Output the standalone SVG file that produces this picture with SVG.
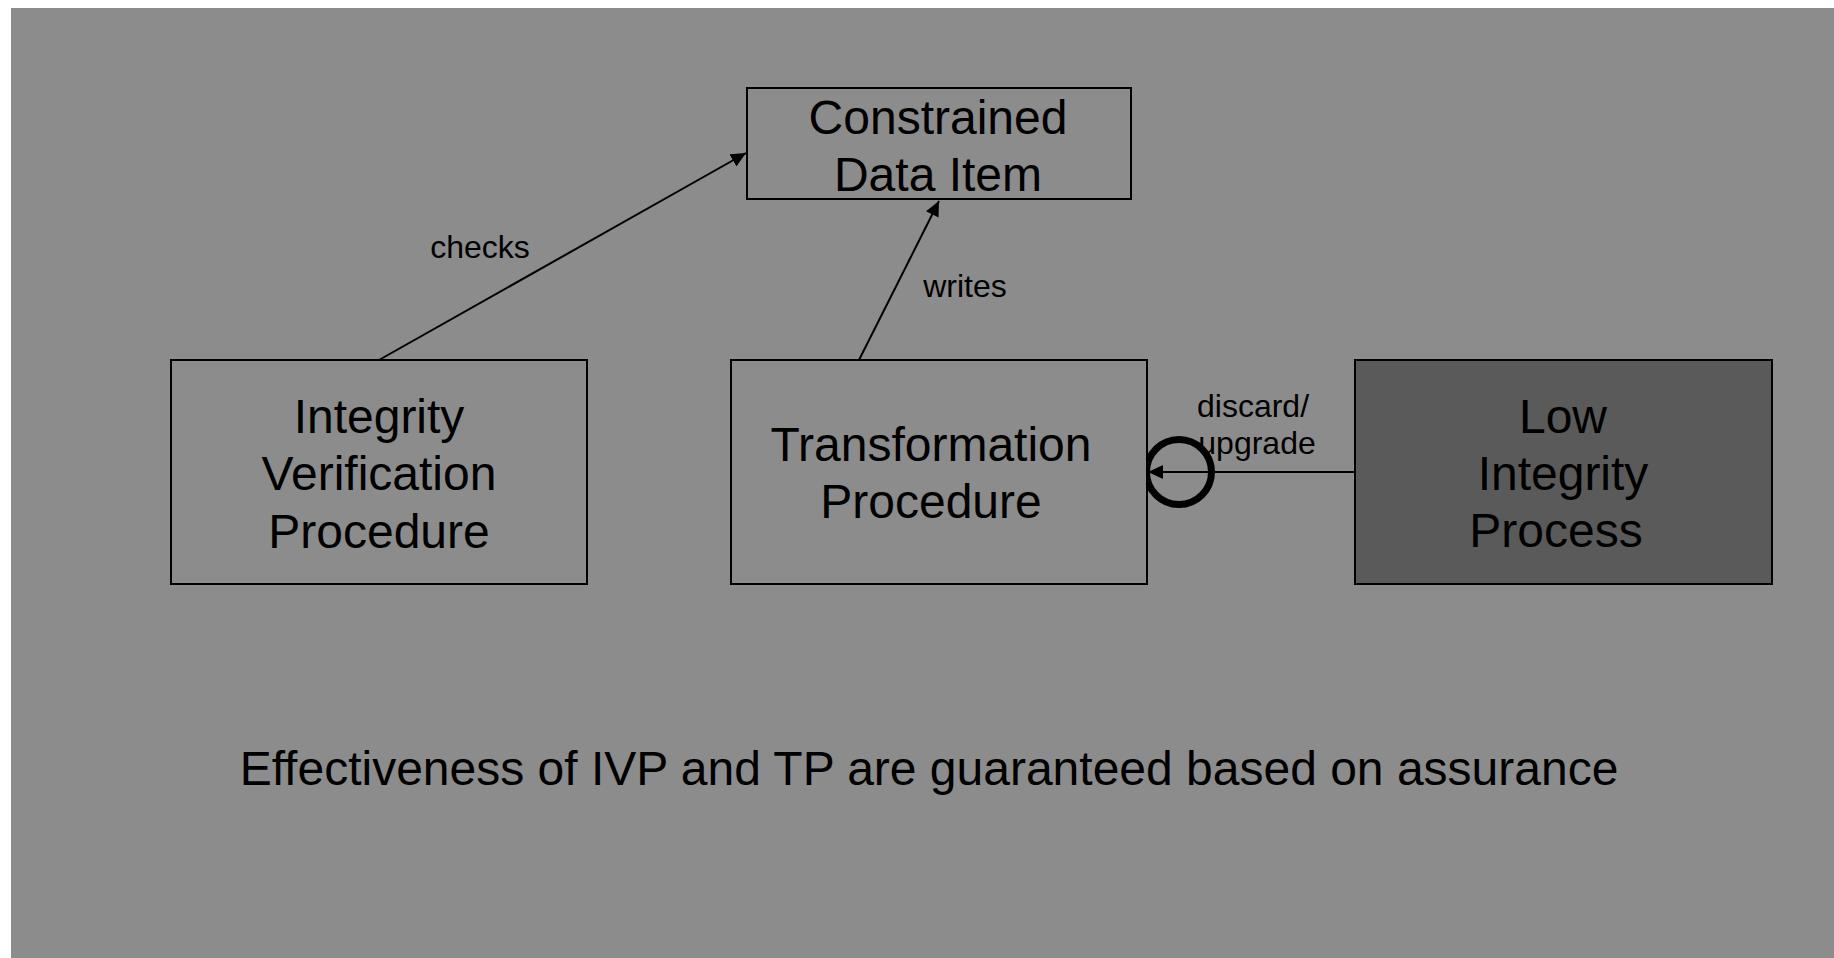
<svg xmlns="http://www.w3.org/2000/svg" width="1834" height="958" viewBox="0 0 1834 958">
  <style>
    .box { fill: #8c8c8c; stroke: #000; stroke-width: 2; }
    .box.dark { fill: #5a5a5a; }
    .big { font-family: "Liberation Sans", Arial, sans-serif; font-size: 48px; fill: #000; text-anchor: middle; }
    .lbl { font-family: "Liberation Sans", Arial, sans-serif; font-size: 32px; fill: #000; text-anchor: middle; }
    .edge { stroke: #000; stroke-width: 2; fill: none; }
  </style>
  <defs>
    <marker id="arrow" markerWidth="16" markerHeight="14" refX="15" refY="7" orient="auto" markerUnits="userSpaceOnUse">
      <path d="M0,0 L15,7 L0,14 Z" fill="#000"/>
    </marker>
  </defs>

  <!-- canvas -->
  <rect x="0" y="0" width="1834" height="958" fill="#ffffff"/>
  <rect x="11" y="8" width="1823" height="950" fill="#8c8c8c"/>

  <!-- connectors -->
  <g id="connectors">
    <line class="edge" x1="379" y1="360" x2="746" y2="153" marker-end="url(#arrow)"/>
    <line class="edge" x1="859" y1="360" x2="939" y2="201" marker-end="url(#arrow)"/>
    <line class="edge" x1="1355" y1="472" x2="1148" y2="472" marker-end="url(#arrow)"/>
    <circle cx="1179" cy="472" r="32.5" fill="none" stroke="#000" stroke-width="7"/>
    <text class="lbl" x="480" y="258">checks</text>
    <text class="lbl" x="965" y="297">writes</text>
    <text class="lbl" x="1253" y="417">discard/</text>
    <text class="lbl" x="1257" y="454">upgrade</text>
  </g>

  <!-- nodes -->
  <g id="cdi">
    <rect class="box" x="747" y="88" width="384" height="111"/>
    <text class="big" x="938" y="134">Constrained</text>
    <text class="big" x="938" y="191">Data Item</text>
  </g>

  <g id="ivp">
    <rect class="box" x="171" y="360" width="416" height="224"/>
    <text class="big" x="379" y="433">Integrity</text>
    <text class="big" x="379" y="490">Verification</text>
    <text class="big" x="379" y="548">Procedure</text>
  </g>

  <g id="tp">
    <rect class="box" x="731" y="360" width="416" height="224"/>
    <text class="big" x="931" y="461">Transformation</text>
    <text class="big" x="931" y="518">Procedure</text>
  </g>

  <g id="lip">
    <rect class="box dark" x="1355" y="360" width="417" height="224"/>
    <text class="big" x="1563" y="433">Low</text>
    <text class="big" x="1563" y="490">Integrity</text>
    <text class="big" x="1556" y="547">Process</text>
  </g>

  <text class="big" x="929" y="785">Effectiveness of IVP and TP are guaranteed based on assurance</text>
</svg>
